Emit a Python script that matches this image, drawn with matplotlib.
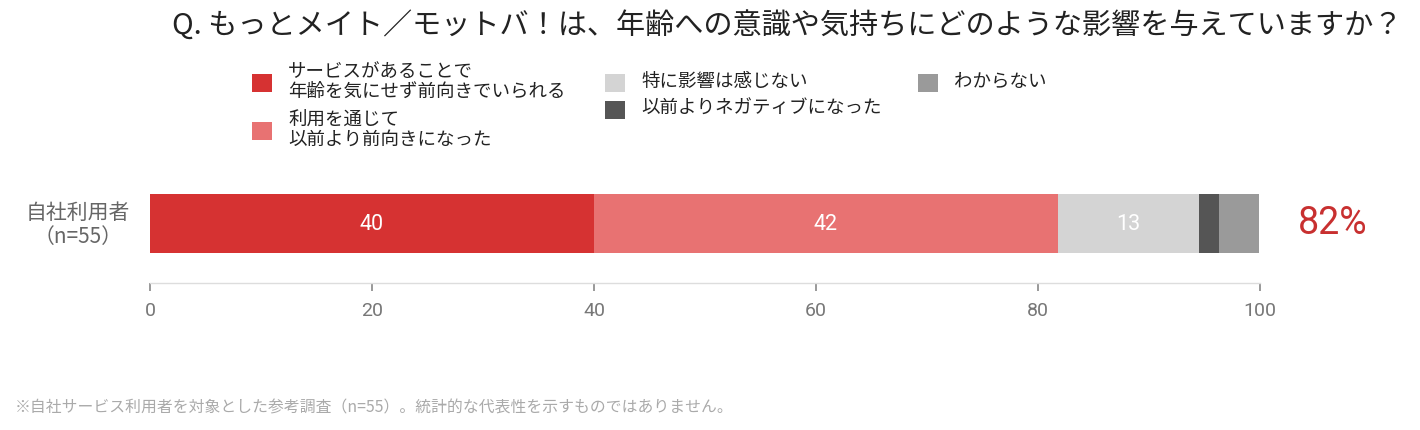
import matplotlib
matplotlib.use("Agg")
import matplotlib.pyplot as plt
from matplotlib.patches import Rectangle
import numpy as np

plt.rcParams['font.family'] = ['Noto Sans CJK JP', 'DejaVu Sans']
NUM_FONT = ['Roboto', 'Noto Sans CJK JP', 'DejaVu Sans']

# ---- data ----
title = "Q. もっとメイト／モットバ！は、年齢への意識や気持ちにどのような影響を与えていますか？"
category = "自社利用者\n（n=55）"
series_names = [
    "サービスがあることで\n年齢を気にせず前向きでいられる",
    "利用を通じて\n以前より前向きになった",
    "特に影響は感じない",
    "以前よりネガティブになった",
    "わからない",
]
values = [40.0, 41.8, 12.7, 1.8, 3.6]
labels = ["40", "42", "13", "", ""]
colors = ["#D63232", "#E87272", "#D4D4D4", "#555555", "#9A9A9A"]
positive_total = "82%"
xticks = [0, 20, 40, 60, 80, 100]
footnote = "※自社サービス利用者を対象とした参考調査（n=55）。統計的な代表性を示すものではありません。"

W, H = 1420, 431
fig = plt.figure(figsize=(W / 100, H / 100), dpi=100)

def fx(px):
    return px / W

def fy(py):
    return 1 - py / H

# axes placement: x 150..1260 px, y 165..284 px
ax = fig.add_axes([fx(150), fy(284), fx(1260) - fx(150), (284 - 165) / H])
ax.set_xlim(0, 100)
ax.set_ylim(-1, 1)

left = 0.0
for v, lab, c in zip(values, labels, colors):
    ax.barh(0, v, left=left, height=59 / 59.5, color=c, edgecolor='none')
    if lab:
        ax.text(left + v / 2, 0, lab, ha='center', va='center', color='white', fontsize=15.5,
                family=NUM_FONT)
    left += v

ax.set_yticks([])
ax.set_xticks(xticks)
ax.set_xticklabels([str(t) for t in xticks], family=NUM_FONT)
ax.tick_params(axis='x', direction='out', length=6, width=1.2, color='#888888',
               labelcolor='#777777', labelsize=14, pad=7)
for s in ['top', 'right', 'left']:
    ax.spines[s].set_visible(False)
ax.spines['bottom'].set_color('#DDDDDD')
ax.spines['bottom'].set_linewidth(1)

# category label
fig.text(fx(78), fy(225), category, ha='center', va='center', color='#666666',
         fontsize=15, multialignment='center', linespacing=1.15)

# total positive
fig.text(fx(1333), fy(224), positive_total, ha='center', va='center', color='#C83030',
         fontsize=27, family=NUM_FONT)

# title
fig.text(fx(787), fy(26), title, ha='center', va='center', color='#222222', fontsize=21)

# legend (manual layout)
legend_pos = [
    (252, 84), (252, 132), (605, 84), (605, 111), (918, 84)
]
line_gap = 20
for (lx, ly), name, c in zip(legend_pos, series_names, colors):
    fig.add_artist(Rectangle((fx(lx), fy(ly + 9)), 20 / W, 18 / H, transform=fig.transFigure,
                             facecolor=c, edgecolor='none'))
    lines = name.split("\n")
    n = len(lines)
    for i, line in enumerate(lines):
        yy = ly - 2 + (i - (n - 1) / 2) * line_gap
        fig.text(fx(lx + 36), fy(yy), line, ha='left', va='center', color='#222222',
                 fontsize=13.3)

# footnote
fig.text(fx(15), fy(408), footnote, ha='left', va='center', color='#AAAAAA', fontsize=11.4)

fig.savefig("out.png", dpi=100)
